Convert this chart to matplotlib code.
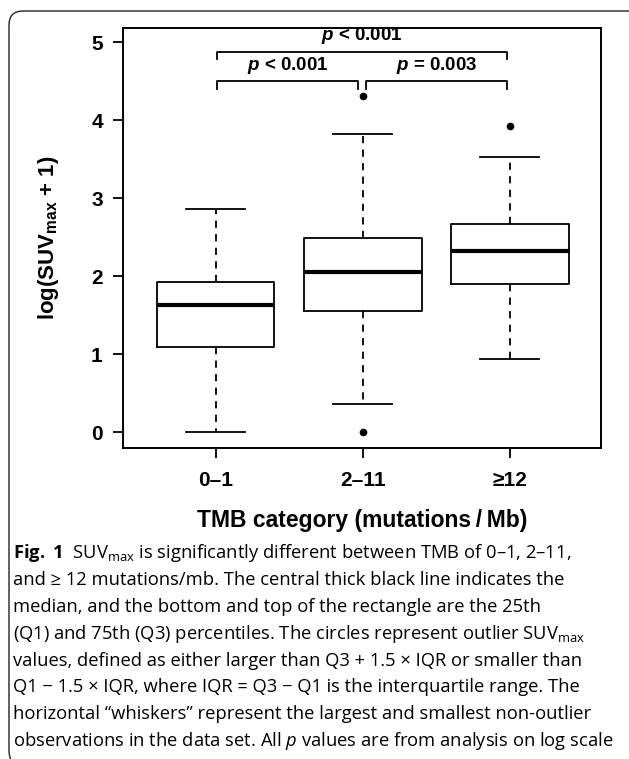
import numpy as np
import matplotlib.pyplot as plt
from matplotlib.patches import FancyBboxPatch
from matplotlib.transforms import IdentityTransform

# ---- data ----
categories = ['0–1', '2–11', '≥12']
q1 = [1.09, 1.56, 1.90]
medians = [1.63, 2.05, 2.32]
q3 = [1.92, 2.49, 2.67]
whislo = [0.0, 0.36, 0.945]
whishi = [2.86, 3.82, 3.53]
outliers = [[], [0.0, 4.31], [3.92]]

# significance brackets: (from, to), label, height
pairs = [(1.01, 2.98), (1.01, 1.97), (2.02, 2.98)]
p_labels = ['< 0.001', '< 0.001', '= 0.003']
bracket_y = [4.877, 4.50, 4.50]
label_y = [5.08, 4.70, 4.70]

caption = [
    r"$\mathbf{Fig.\ 1}$  SUV$_\mathregular{max}$ is significantly different between TMB of 0–1, 2–11,",
    "and ≥ 12 mutations/mb. The central thick black line indicates the",
    "median, and the bottom and top of the rectangle are the 25th",
    r"(Q1) and 75th (Q3) percentiles. The circles represent outlier SUV$_\mathregular{max}$",
    "values, defined as either larger than Q3 + 1.5 × IQR or smaller than",
    "Q1 − 1.5 × IQR, where IQR = Q3 − Q1 is the interquartile range. The",
    "horizontal “whiskers” represent the largest and smallest non-outlier",
    r"observations in the data set. All $p$ values are from analysis on log scale",
]

plt.rcParams['mathtext.fontset'] = 'custom'
plt.rcParams['mathtext.rm'] = 'Open Sans'
plt.rcParams['mathtext.it'] = 'Open Sans:italic'
plt.rcParams['mathtext.bf'] = 'Open Sans:bold'
plt.rcParams['mathtext.sf'] = 'Liberation Sans:italic:bold'

W, H = 629, 759
AX = ['Liberation Sans', 'DejaVu Sans']
CAP = ['Open Sans', 'DejaVu Sans']

fig = plt.figure(figsize=(W / 100, H / 100), dpi=100)
ax = fig.add_axes([123 / W, 1 - 448 / H, 478 / W, 420 / H])

stats = []
for i in range(len(categories)):
    stats.append({'med': medians[i], 'q1': q1[i], 'q3': q3[i],
                  'whislo': whislo[i], 'whishi': whishi[i],
                  'fliers': outliers[i], 'label': categories[i]})

ax.bxp(stats, positions=[1, 2, 3], widths=0.8, capwidths=0.4,
       boxprops=dict(color='black', linewidth=1.3),
       medianprops=dict(color='black', linewidth=3.0, solid_capstyle='butt'),
       whiskerprops=dict(color='black', linewidth=1.3, linestyle=(0, (4, 3.5))),
       capprops=dict(color='black', linewidth=1.3),
       flierprops=dict(marker='o', markerfacecolor='black', markeredgecolor='black',
                       markersize=4.5))

# brackets and p values
for (a, b), lab, yb, yl in zip(pairs, p_labels, bracket_y, label_y):
    drop = 0.1
    ax.plot([a, a, b, b], [yb - drop, yb, yb, yb - drop], color='black', lw=1.3,
            clip_on=False)
    ax.text((a + b) / 2, yl, r"$\mathsf{p}$ " + lab, ha='center', va='center',
            fontsize=13.5, fontweight='bold', family=AX)

ax.set_xlim(0.37, 3.62)
ax.set_ylim(-0.2, 5.18)
ax.set_yticks([0, 1, 2, 3, 4, 5])
ax.set_xticks([1, 2, 3])
ax.set_xticklabels(categories)
for s in ax.spines.values():
    s.set_linewidth(1.4)
ax.tick_params(axis='both', direction='out', length=7.5, width=1.3, labelsize=15)
ax.tick_params(axis='y', pad=7)
ax.tick_params(axis='x', pad=9)
for t in ax.get_xticklabels() + ax.get_yticklabels():
    t.set_fontweight('bold')
    t.set_family(AX)

fig.text(49 / W, 1 - 238 / H, r"log(SUV$_\mathregular{max}$ + 1)", rotation=90,
         ha='center', va='center', fontsize=16, fontweight='bold', family=AX)
fig.text(362 / W, 1 - 520 / H, "TMB category (mutations\u2009/\u2009Mb)",
         ha='center', va='center', fontsize=16.5, fontweight='bold', family=AX)

for i, line in enumerate(caption):
    fig.text(13 / W, 1 - (553 + 26.9 * i) / H, line, ha='left', va='center',
             fontsize=13.2, family=CAP)

# rounded outer frame
frame = FancyBboxPatch((9, -6), 660, H - 11 + 6, boxstyle='round,pad=0,rounding_size=14',
                       transform=IdentityTransform(), fill=False,
                       edgecolor='#222222', linewidth=1.0)
fig.add_artist(frame)

fig.savefig('out.png', dpi=100)
